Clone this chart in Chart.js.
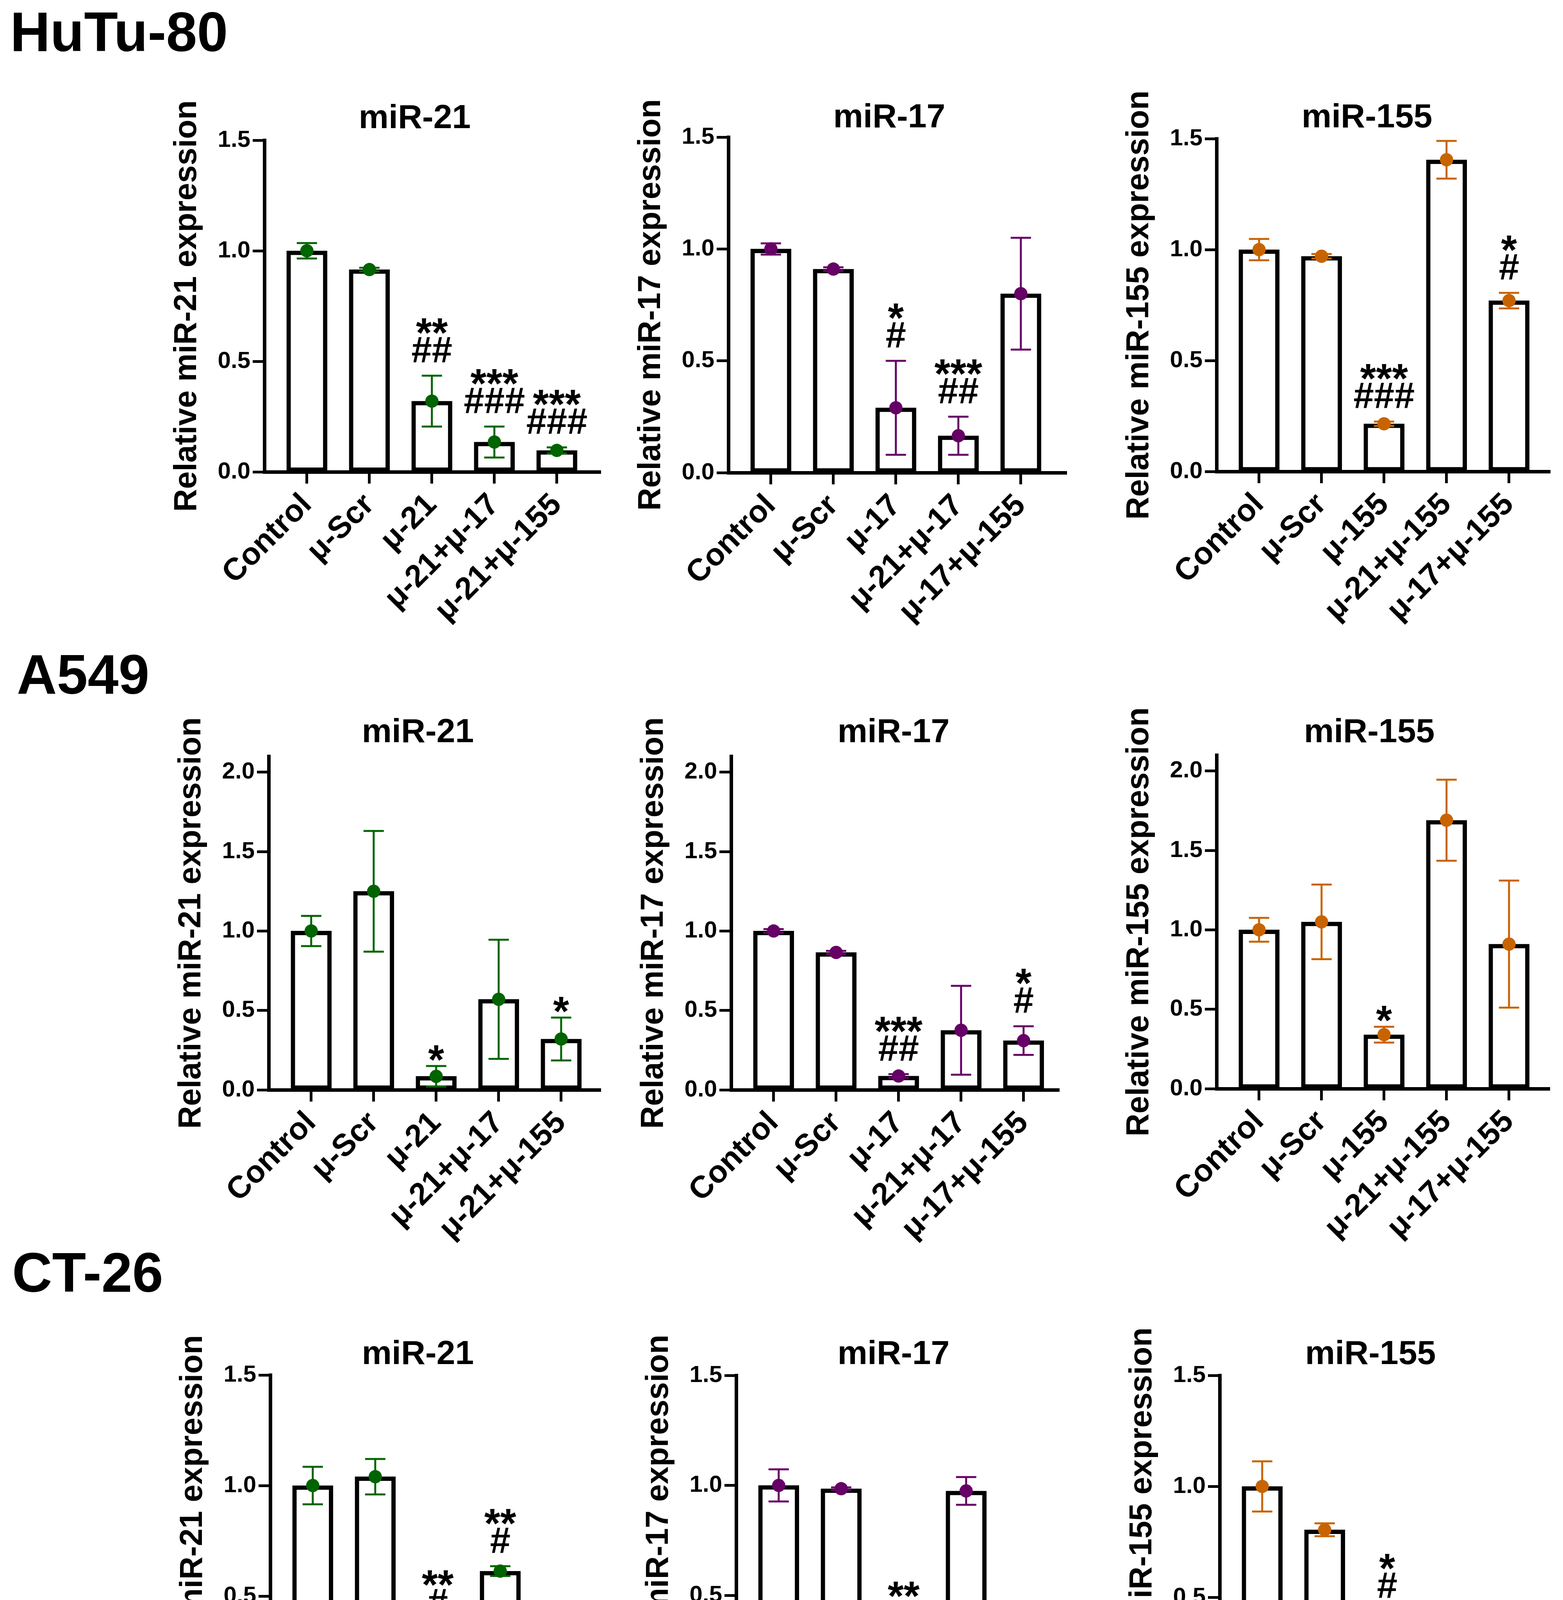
<!DOCTYPE html>
<html lang="en">
<head>
<meta charset="UTF-8">
<title>miR-21 / miR-17 / miR-155 expression</title>
<style>
    html, body { margin: 0; padding: 0; background: #fff; }
    body { width: 4002px; height: 6504px; position: relative; overflow: hidden; font-family: 'Liberation Sans', Arial, sans-serif; }
    .cell { position: absolute; font-weight: bold; font-size: 142px; line-height: 142px; color: #000; white-space: nowrap; }
    canvas { position: absolute; }
</style>
<script src="https://cdn.jsdelivr.net/npm/chart.js@4.4.1/dist/chart.umd.min.js"></script>
</head>
<body>

<div class="cell" style="left:26px; top:11px;">HuTu-80</div>
<div class="cell" style="left:43px; top:1656px;">A549</div>
<div class="cell" style="left:31px; top:3187px;">CT-26</div>
<div class="cell" style="left:35px; top:4830px;">Caco-2</div>

<script>
    // groups on the x axis
    var cats21 = ['Control', 'μ-Scr', 'μ-21', 'μ-21+μ-17', 'μ-21+μ-155'];
    var cats17 = ['Control', 'μ-Scr', 'μ-17', 'μ-21+μ-17', 'μ-17+μ-155'];
    var cats155 = ['Control', 'μ-Scr', 'μ-155', 'μ-21+μ-155', 'μ-17+μ-155'];
    var yTicks = [0, 0.5, 1.0, 1.5, 2.0];

    // HuTu-80
    var hutu21 = [1.0, 0.915, 0.32, 0.135, 0.097];
    var hutu21Sd = [0.035, 0.008, 0.115, 0.07, 0.014];
    var hutu21Stars = ['', '', '**', '***', '***'];
    var hutu21Hash = ['', '', '##', '###', '###'];
    var hutu17 = [1.0, 0.91, 0.29, 0.165, 0.80];
    var hutu17Sd = [0.025, 0.008, 0.21, 0.085, 0.25];
    var hutu17Stars = ['', '', '*', '***', ''];
    var hutu17Hash = ['', '', '#', '##', ''];
    var hutu155 = [1.0, 0.97, 0.215, 1.405, 0.77];
    var hutu155Sd = [0.048, 0.01, 0.01, 0.085, 0.035];
    var hutu155Stars = ['', '', '***', '', '*'];
    var hutu155Hash = ['', '', '###', '', '#'];

    // A549
    var a549_21 = [1.0, 1.25, 0.085, 0.57, 0.32];
    var a549_21Sd = [0.095, 0.38, 0.065, 0.375, 0.135];
    var a549_21Stars = ['', '', '*', '', '*'];
    var a549_21Hash = ['', '', '', '', ''];
    var a549_17 = [1.0, 0.865, 0.087, 0.375, 0.31];
    var a549_17Sd = [0.012, 0.01, 0.012, 0.28, 0.09];
    var a549_17Stars = ['', '', '***', '', '*'];
    var a549_17Hash = ['', '', '##', '', '#'];
    var a549_155 = [1.0, 1.05, 0.34, 1.69, 0.91];
    var a549_155Sd = [0.075, 0.235, 0.05, 0.255, 0.40];
    var a549_155Stars = ['', '', '*', '', ''];
    var a549_155Hash = ['', '', '', '', ''];

    // CT-26
    var ct21 = [1.0, 1.04, 0.33, 0.613, 0.012];
    var ct21Sd = [0.085, 0.08, 0.027, 0.022, 0.006];
    var ct21Stars = ['', '', '**', '**', '***'];
    var ct21Hash = ['', '', '#', '#', '##'];
    var ct17 = [1.0, 0.985, 0.295, 0.975, 0.011];
    var ct17Sd = [0.073, 0.006, 0.006, 0.063, 0.005];
    var ct17Stars = ['', '', '**', '', '***'];
    var ct17Hash = ['', '', '##', '', '###'];
    var ct155 = [1.0, 0.805, 0.36, 0.012, 0.062];
    var ct155Sd = [0.113, 0.029, 0.078, 0.005, 0.012];
    var ct155Stars = ['', '', '*', '***', '***'];
    var ct155Hash = ['', '', '#', '##', '##'];

    // Caco-2
    var caco21 = [1.0, 0.88, 0.33, 0.27, 0.275];
    var caco21Sd = [0.108, 0.128, 0.038, 0.015, 0.012];
    var caco21Stars = ['', '', '**', '***', '***'];
    var caco21Hash = ['', '', '#', '#', '###'];
    var caco17 = [1.1, 1.045, 0.475, 0.465, 0.775];
    var caco17Sd = [0.08, 0.077, 0.158, 0.222, 0.117];
    var caco17Stars = ['', '', '*', '*', ''];
    var caco17Hash = ['', '', '#', '#', ''];
    var caco155 = [1.0, 0.967, 0.67, 1.793, 1.655];
    var caco155Sd = [0.076, 0.13, 0.139, 0.024, 0.326];
    var caco155Stars = ['', '', '', '', ''];
    var caco155Hash = ['', '', '#', '', ''];

    var FONT = "'Liberation Sans', Arial, sans-serif";
    var GREEN = '#006400', PURPLE = '#660066', ORANGE = '#c86400';

    Chart.defaults.font.family = FONT;
    Chart.defaults.color = '#000';

    var panels = [
        {mir: 'miR-21', cats: cats21, mean: hutu21, sd: hutu21Sd, stars: hutu21Stars, hash: hutu21Hash, color: GREEN, yMax: 1.5,
         axisX: 677, rightX: 1538, topY: 359, zeroY: 1208, titleX: 1062, titleY: 328},
        {mir: 'miR-17', cats: cats17, mean: hutu17, sd: hutu17Sd, stars: hutu17Stars, hash: hutu17Hash, color: PURPLE, yMax: 1.5,
         axisX: 1865, rightX: 2731, topY: 351, zeroY: 1210, titleX: 2277, titleY: 326},
        {mir: 'miR-155', cats: cats155, mean: hutu155, sd: hutu155Sd, stars: hutu155Stars, hash: hutu155Hash, color: ORANGE, yMax: 1.5,
         axisX: 3115, rightX: 3969, topY: 355, zeroY: 1207, titleX: 3500, titleY: 326},

        {mir: 'miR-21', cats: cats21, mean: a549_21, sd: a549_21Sd, stars: a549_21Stars, hash: a549_21Hash, color: GREEN, yMax: 2.1,
         axisX: 688, rightX: 1538, topY: 1936, zeroY: 2790, titleX: 1070, titleY: 1900},
        {mir: 'miR-17', cats: cats17, mean: a549_17, sd: a549_17Sd, stars: a549_17Stars, hash: a549_17Hash, color: PURPLE, yMax: 2.1,
         axisX: 1872, rightX: 2712, topY: 1936, zeroY: 2790, titleX: 2288, titleY: 1900},
        {mir: 'miR-155', cats: cats155, mean: a549_155, sd: a549_155Sd, stars: a549_155Stars, hash: a549_155Hash, color: ORANGE, yMax: 2.1,
         axisX: 3115, rightX: 3968, topY: 1933, zeroY: 2787, titleX: 3506, titleY: 1900},

        {mir: 'miR-21', cats: cats21, mean: ct21, sd: ct21Sd, stars: ct21Stars, hash: ct21Hash, color: GREEN, yMax: 1.5,
         axisX: 692, rightX: 1545, topY: 3520, zeroY: 4369, titleX: 1070, titleY: 3492},
        {mir: 'miR-17', cats: cats17, mean: ct17, sd: ct17Sd, stars: ct17Stars, hash: ct17Hash, color: PURPLE, yMax: 1.5,
         axisX: 1885, rightX: 2718, topY: 3521, zeroY: 4366, titleX: 2288, titleY: 3492},
        {mir: 'miR-155', cats: cats155, mean: ct155, sd: ct155Sd, stars: ct155Stars, hash: ct155Hash, color: ORANGE, yMax: 1.5,
         axisX: 3123, rightX: 3978, topY: 3521, zeroY: 4374, titleX: 3509, titleY: 3492},

        {mir: 'miR-21', cats: cats21, mean: caco21, sd: caco21Sd, stars: caco21Stars, hash: caco21Hash, color: GREEN, yMax: 2.2,
         axisX: 692, rightX: 1545, topY: 5206, zeroY: 6061, titleX: 1070, titleY: 5169},
        {mir: 'miR-17', cats: cats17, mean: caco17, sd: caco17Sd, stars: caco17Stars, hash: caco17Hash, color: PURPLE, yMax: 2.2,
         axisX: 1885, rightX: 2731, topY: 5206, zeroY: 6061, titleX: 2288, titleY: 5169},
        {mir: 'miR-155', cats: cats155, mean: caco155, sd: caco155Sd, stars: caco155Stars, hash: caco155Hash, color: ORANGE, yMax: 2.0,
         axisX: 3123, rightX: 3968, topY: 5222, zeroY: 6064, titleX: 3506, titleY: 5169}
    ];

    var PAD_LEFT = 300, PAD_TOP = 260, PAD_RIGHT = 40, X_HEIGHT = 520;
    var X_MIN = -0.68, SPACING = 160;

    function makePanel(p) {
        var canvas = document.createElement('canvas');
        var left = p.axisX - PAD_LEFT;
        var top = p.topY - PAD_TOP;
        canvas.width = p.rightX - p.axisX + PAD_LEFT + PAD_RIGHT;
        canvas.height = p.zeroY - p.topY + PAD_TOP + X_HEIGHT;
        canvas.style.left = left + 'px';
        canvas.style.top = top + 'px';
        document.body.appendChild(canvas);

        // error bars go over the bar but under the dot
        var errorBars = {
            id: 'errorBars',
            afterDatasetDraw: function(chart, args) {
                if (args.index !== 0) return;
                var ctx = chart.ctx, x = chart.scales.x, y = chart.scales.y;
                ctx.save();
                ctx.strokeStyle = p.color;
                ctx.lineWidth = 5;
                for (var i = 0; i < p.mean.length; i++) {
                    var px = x.getPixelForValue(i);
                    var hi = y.getPixelForValue(p.mean[i] + p.sd[i]);
                    var lo = y.getPixelForValue(Math.max(p.mean[i] - p.sd[i], 0));
                    ctx.beginPath();
                    ctx.moveTo(px, hi); ctx.lineTo(px, lo);
                    ctx.moveTo(px - 26, hi); ctx.lineTo(px + 26, hi);
                    ctx.moveTo(px - 26, lo); ctx.lineTo(px + 26, lo);
                    ctx.stroke();
                }
                ctx.restore();
            }
        };

        var marks = {
            id: 'marks',
            afterDraw: function(chart) {
                var ctx = chart.ctx, x = chart.scales.x, y = chart.scales.y;
                ctx.save();
                ctx.fillStyle = '#000';
                ctx.textAlign = 'center';
                ctx.textBaseline = 'alphabetic';
                ctx.font = 'bold 86px ' + FONT;
                ctx.fillText(p.mir, p.titleX - left, p.titleY - top);
                for (var i = 0; i < p.mean.length; i++) {
                    var px = x.getPixelForValue(i);
                    var errTop = y.getPixelForValue(p.mean[i] + p.sd[i]);
                    var hashBase = errTop - 34;
                    if (p.hash[i]) {
                        ctx.font = 'bold 94px ' + FONT;
                        ctx.fillText(p.hash[i], px, hashBase);
                    }
                    if (p.stars[i]) {
                        ctx.font = 'bold 105px ' + FONT;
                        ctx.fillText(p.stars[i], px, p.hash[i] ? hashBase - 40 : errTop + 20);
                    }
                }
                ctx.restore();
            }
        };

        var points = p.mean.map(function(v, i) { return {x: i, y: v}; });

        new Chart(canvas.getContext('2d'), {
            type: 'bar',
            data: {
                datasets: [
                    {
                        type: 'bar',
                        data: points,
                        backgroundColor: '#fff',
                        borderColor: '#000',
                        borderWidth: 11,
                        borderSkipped: false,
                        barThickness: 104,
                        order: 2
                    },
                    {
                        type: 'scatter',
                        data: points,
                        showLine: false,
                        pointRadius: 17,
                        pointBackgroundColor: p.color,
                        pointBorderWidth: 0,
                        order: 1
                    }
                ]
            },
            options: {
                responsive: false,
                animation: false,
                devicePixelRatio: 1,
                layout: { padding: { top: PAD_TOP, right: PAD_RIGHT, left: 0, bottom: 0 } },
                plugins: { legend: { display: false }, tooltip: { enabled: false } },
                scales: {
                    x: {
                        type: 'linear',
                        offset: false,
                        min: X_MIN,
                        max: X_MIN + (p.rightX - p.axisX) / SPACING,
                        afterBuildTicks: function(s) {
                            s.ticks = p.cats.map(function(c, i) { return {value: i}; });
                        },
                        afterFit: function(s) { s.height = X_HEIGHT; },
                        grid: { offset: false, drawOnChartArea: false, tickLength: 30, tickWidth: 7, tickColor: '#000' },
                        border: { display: true, width: 9, color: '#000' },
                        ticks: {
                            autoSkip: false, minRotation: 45, maxRotation: 45, padding: 8,
                            color: '#000', font: { size: 80, weight: 'bold' },
                            callback: function(v) { return p.cats[v]; }
                        }
                    },
                    y: {
                        min: 0,
                        max: p.yMax,
                        afterBuildTicks: function(s) {
                            s.ticks = yTicks.filter(function(t) { return t <= p.yMax; }).map(function(t) { return {value: t}; });
                        },
                        afterFit: function(s) { s.width = PAD_LEFT; },
                        grid: { drawOnChartArea: false, tickLength: 30, tickWidth: 7, tickColor: '#000' },
                        border: { display: true, width: 9, color: '#000' },
                        ticks: {
                            padding: 6, color: '#000', font: { size: 60, weight: 'bold' },
                            callback: function(v) { return v.toFixed(1); }
                        },
                        title: {
                            display: true,
                            text: 'Relative ' + p.mir + ' expression',
                            color: '#000',
                            font: { size: 81, weight: 'bold' },
                            padding: { top: 54, bottom: 0 }
                        }
                    }
                }
            },
            plugins: [errorBars, marks]
        });
    }

    panels.forEach(makePanel);
</script>
</body>
</html>
